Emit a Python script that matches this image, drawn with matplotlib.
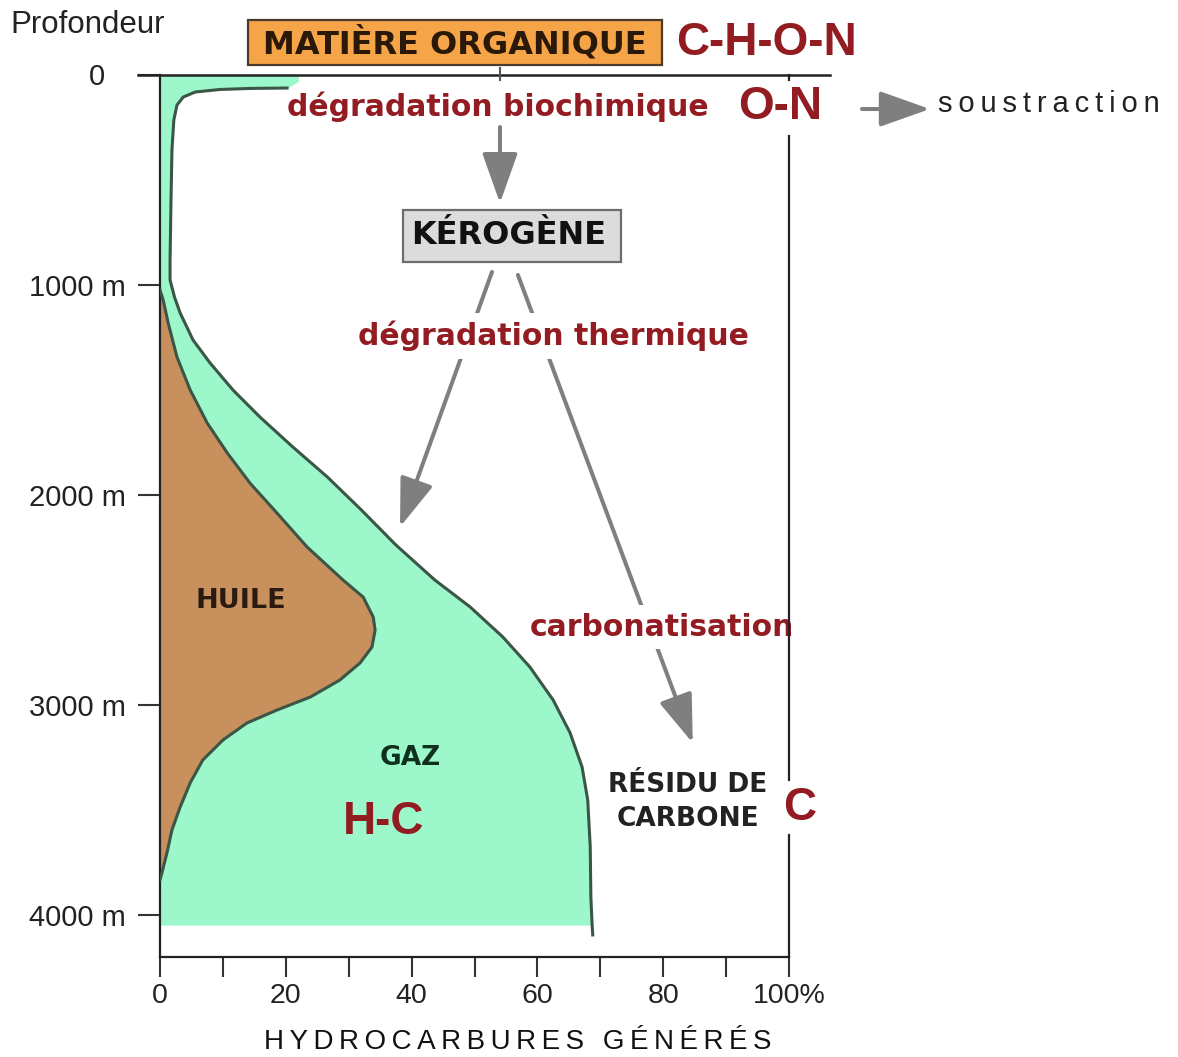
import numpy as np
import matplotlib
matplotlib.use("Agg")
import matplotlib.pyplot as plt
from matplotlib.patches import Rectangle

plt.rcParams['font.family'] = ['Liberation Sans', 'DejaVu Sans']

# courbe externe (gaz) : profondeur en m, pourcentage cumulé des hydrocarbures générés
gaz_profondeur = [0, 30, 62, 64, 69, 81, 105, 143, 214, 357, 595, 881, 976, 1057, 1133,
                  1262, 1371, 1500, 1629, 1771, 1914, 2071, 2238, 2405, 2533, 2676,
                  2819, 2976, 3133, 3295, 3452, 3676, 3914, 4048, 4095]
gaz_pourcent = [22, 22, 20.2, 14.3, 9.5, 5.6, 3.7, 2.7, 2.2, 1.9, 1.75, 1.6, 1.6, 2.3, 3.2,
                5.25, 7.95, 11.6, 15.9, 21.1, 26.6, 32.0, 37.5, 43.7, 49.3, 54.5,
                58.8, 62.5, 65.2, 67.1, 68.0, 68.4, 68.5, 68.7, 68.8]

# courbe interne (huile)
huile_profondeur = [1024, 1071, 1181, 1343, 1500, 1657, 1800, 1943, 2086, 2248, 2405,
                    2486, 2581, 2643, 2724, 2800, 2881, 2962, 3024, 3086, 3167, 3262,
                    3371, 3486, 3595, 3705, 3800, 3833]
huile_pourcent = [0, 0.5, 1.3, 2.7, 4.8, 7.5, 10.7, 14.3, 18.6, 23.4, 29.1,
                  32.3, 33.9, 34.2, 33.7, 31.8, 28.6, 23.9, 18.6, 13.8, 10.0, 6.8,
                  4.8, 3.2, 1.9, 1.1, 0.3, 0]

prof_ticks = [0, 1000, 2000, 3000, 4000]
prof_labels = ['', '1000 m', '2000 m', '3000 m', '4000 m']
pct_ticks = [0, 20, 40, 60, 80, 100]
pct_labels = ['0', '20', '40', '60', '80', '100%']
pct_minor = [10, 30, 50, 70, 90]

vert = '#9cf8ca'
brun = '#c8905c'
trait = '#3b5547'
rouge = '#931c22'
gris = '#7f7f7f'
noir = '#222222'

W, H = 1178, 1057
fig = plt.figure(figsize=(W / 100, H / 100), dpi=100)
ax = fig.add_axes([160 / W, 1 - 957 / H, 629 / W, 882 / H])
ax.set_xlim(0, 100)
ax.set_ylim(4200, 0)

g_d = np.array(gaz_profondeur)
g_x = np.array(gaz_pourcent)
m = g_d <= 4048
ax.fill_betweenx(g_d[m], 0, g_x[m], color=vert, lw=0, zorder=1)
ax.fill_betweenx(huile_profondeur, 0, huile_pourcent, color=brun, lw=0, zorder=2)
ax.plot(g_x[2:], g_d[2:], color=trait, lw=2.2, zorder=3, solid_joinstyle='round')
ax.plot(huile_pourcent, huile_profondeur, color=trait, lw=2.2, zorder=3,
        solid_joinstyle='round')

# axes
for s in ['top', 'right']:
    ax.spines[s].set_visible(False)
for s in ['left', 'bottom']:
    ax.spines[s].set_linewidth(1.6)
    ax.spines[s].set_color(noir)
ax.plot([-3.5, 106.5], [0, 0], color=noir, lw=1.8, clip_on=False, zorder=6)
for y0, y1 in [(0, 24), (290, 3357), (3619, 4200)]:
    ax.plot([100, 100], [y0, y1], color=noir, lw=1.6, clip_on=False, zorder=6)
ax.plot([54.05, 54.05], [-33, 24], color='#555555', lw=1.5, clip_on=False, zorder=6)

ax.set_yticks(prof_ticks, prof_labels)
ax.set_xticks(pct_ticks, pct_labels)
ax.set_xticks(pct_minor, minor=True)
ax.tick_params(axis='y', direction='out', length=15.8, width=1.5, pad=9,
               labelsize=21, color='#333333', labelcolor=noir)
ax.tick_params(axis='x', which='both', direction='out', length=14.4, width=1.5,
               pad=4, labelsize=20.5, color='#333333', labelcolor=noir)
ax.text(-10.0, 10, '0', ha='center', va='center', fontsize=21, color=noir, clip_on=False)


def espace(s):
    return '\u2009'.join(s)


def fleche(x0, y0, x1, y1, hl=30, hw=10.5):
    ax.annotate('', xy=(x1, y1), xytext=(x0, y0), annotation_clip=False, zorder=4,
                arrowprops=dict(arrowstyle=f'-|>,head_length={hl},head_width={hw}',
                                mutation_scale=1, lw=2.9, color=gris,
                                shrinkA=0, shrinkB=0))


fleche(54.05, 248, 54.05, 610, hl=31, hw=11)
fleche(52.78, 938, 38.16, 2152)
fleche(56.9, 952, 84.7, 3181)
fleche(111.6, 162, 122.4, 162, hl=31, hw=11)

blanc = dict(boxstyle='square,pad=0.25', fc='white', ec='none')
dv = ['DejaVu Sans']

# textes
ax.text(-23.85, -238, 'Profondeur', ha='left', va='center', fontsize=22.5,
        color=noir, clip_on=False)
ax.add_patch(Rectangle((14.0, -262), 65.8, 214, fc='#f5a447', ec='#4a3b2f', lw=1.6,
                       clip_on=False, zorder=5))
ax.text(46.9, -152, 'MATIÈRE ORGANIQUE', ha='center', va='center', fontsize=23,
        fontweight='bold', family=dv, color='#2a1808', zorder=6, clip_on=False)
ax.text(82.0, -152, 'C-H-O-N', ha='left', va='center', fontsize=33,
        fontweight='bold', color=rouge, clip_on=False)
ax.text(53.7, 152, 'dégradation biochimique', ha='center', va='center', fontsize=21.5,
        fontweight='bold', family=dv, color=rouge, clip_on=False)
ax.text(91.9, 152, 'O-N', ha='left', va='center', fontsize=33,
        fontweight='bold', color=rouge, clip_on=False)
ax.text(123.7, 138, espace('soustraction'), ha='left', va='center', fontsize=21,
        color=noir, clip_on=False)

ax.add_patch(Rectangle((38.6, 643), 34.7, 247, fc='#dcdcdc', ec='#6d6d6d', lw=1.6,
                       clip_on=False, zorder=5))
ax.text(55.5, 762, 'KÉROGÈNE', ha='center', va='center', fontsize=23,
        fontweight='bold', family=dv, color='#111111', zorder=6)
ax.text(62.6, 1243, 'dégradation thermique', ha='center', va='center', fontsize=21.5,
        fontweight='bold', family=dv, color=rouge, bbox=blanc, zorder=5)
ax.text(79.8, 2629, 'carbonatisation', ha='center', va='center', fontsize=21.5,
        fontweight='bold', family=dv, color=rouge, bbox=blanc, zorder=5, clip_on=False)

ax.text(12.9, 2505, 'HUILE', ha='center', va='center', fontsize=19.5,
        fontweight='bold', family=dv, color='#2b1a10', zorder=5)
ax.text(39.7, 3252, 'GAZ', ha='center', va='center', fontsize=19,
        fontweight='bold', family=dv, color='#10301f', zorder=5)
ax.text(35.5, 3557, 'H-C', ha='center', va='center', fontsize=33,
        fontweight='bold', color=rouge, zorder=5)
ax.text(83.9, 3381, 'RÉSIDU DE', ha='center', va='center', fontsize=19,
        fontweight='bold', family=dv, color=noir, zorder=5)
ax.text(83.9, 3543, 'CARBONE', ha='center', va='center', fontsize=19,
        fontweight='bold', family=dv, color=noir, zorder=5)
ax.text(99.0, 3490, 'C', ha='left', va='center', fontsize=33,
        fontweight='bold', color=rouge, clip_on=False)

ax.text(56.8, 4605, espace('HYDROCARBURES GÉNÉRÉS'), ha='center', va='center',
        fontsize=20, color='#111111', clip_on=False)

fig.savefig('out.png', dpi=100)
